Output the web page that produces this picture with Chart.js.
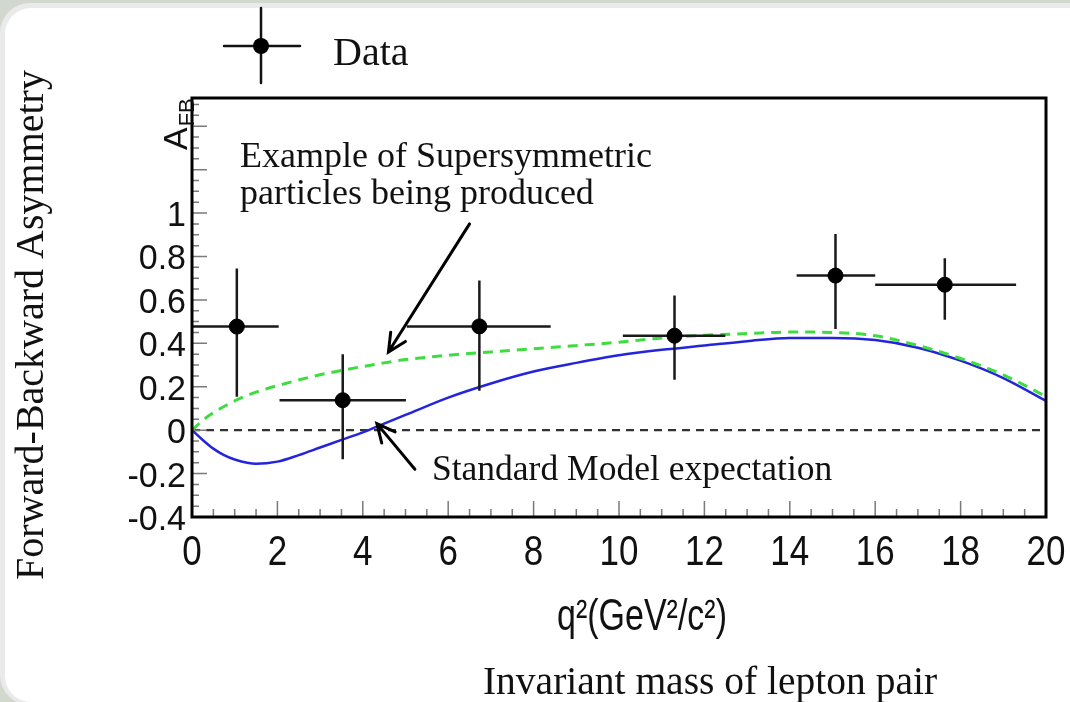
<!DOCTYPE html>
<html>
<head>
<meta charset="utf-8">
<script src="https://cdn.jsdelivr.net/npm/chart.js@4.4.1/dist/chart.umd.min.js"></script>
<style>
  html, body { margin: 0; padding: 0; background: #d6dad2; }
  #wrap { width: 1070px; height: 702px; }
</style>
</head>
<body>
<div id="wrap"><canvas id="afb-chart" width="1070" height="702"></canvas></div>
<script>
// measured points (q2 bin centre, A_FB) and their error bars
const xCenters = [1.05, 3.53, 6.73, 11.3, 15.07, 17.63];
const afb      = [0.477, 0.138, 0.478, 0.435, 0.712, 0.67];
const binLow   = [0, 2.05, 5.03, 10.09, 14.16, 16.0];
const binHigh  = [2.03, 5.01, 8.4, 12.49, 16.0, 19.3];
const errLow   = [0.154, -0.134, 0.181, 0.232, 0.466, 0.508];
const errHigh  = [0.745, 0.35, 0.689, 0.62, 0.904, 0.792];

// Standard Model expectation (blue)
const smQ2  = [0, 0.25, 0.5, 0.75, 1, 1.5, 2, 2.5, 3, 3.5, 4, 4.5, 5, 6, 7, 8, 9, 10, 11, 12, 13, 14, 15, 16, 17, 18, 19, 20];
const smAfb = [0, -0.045, -0.085, -0.115, -0.135, -0.155, -0.145, -0.115, -0.08, -0.045, -0.01, 0.03, 0.07, 0.15, 0.215, 0.27, 0.31, 0.345, 0.37, 0.39, 0.41, 0.425, 0.425, 0.415, 0.38, 0.32, 0.24, 0.135];

// supersymmetry example (green dashed)
const susyQ2  = [0, 0.25, 0.5, 1, 1.5, 2, 3, 3.5, 4.5, 5, 6, 7, 8, 9, 10, 11, 12, 13, 14, 15, 16, 17, 18, 19, 20];
const susyAfb = [0, 0.045, 0.08, 0.135, 0.175, 0.205, 0.255, 0.275, 0.31, 0.325, 0.345, 0.36, 0.375, 0.39, 0.405, 0.425, 0.437, 0.445, 0.452, 0.45, 0.435, 0.39, 0.33, 0.255, 0.155];

const xTickValues = [0, 2, 4, 6, 8, 10, 12, 14, 16, 18, 20];
const yTickValues = [-0.4, -0.2, 0, 0.2, 0.4, 0.6, 0.8, 1];

const toXY = (xs, ys) => xs.map((x, i) => ({ x: x, y: ys[i] }));

const SERIF = "'Liberation Serif', 'Times New Roman', serif";
const SANS = "'Liberation Sans', Arial, sans-serif";

function arrow(ctx, x1, y1, x2, y2) {
  const a = Math.atan2(y2 - y1, x2 - x1);
  const h = 20;
  ctx.beginPath();
  ctx.moveTo(x1, y1);
  ctx.lineTo(x2, y2);
  ctx.moveTo(x2 - h * Math.cos(a - 0.45), y2 - h * Math.sin(a - 0.45));
  ctx.lineTo(x2, y2);
  ctx.lineTo(x2 - h * Math.cos(a + 0.45), y2 - h * Math.sin(a + 0.45));
  ctx.stroke();
}

// text squeezed/stretched vertically, as in the (resized) ROOT plot
function tallText(ctx, txt, x, y, sy) {
  ctx.save();
  ctx.translate(x, y);
  ctx.scale(1, sy);
  ctx.fillText(txt, 0, 0);
  ctx.restore();
}

const fmt = v => String(Math.round(v * 10) / 10);

const decor = {
  id: 'decor',
  beforeDraw(chart) {
    const ctx = chart.ctx;
    ctx.save();
    ctx.fillStyle = '#d3d8cf';
    ctx.fillRect(0, 0, chart.width, chart.height);
    ctx.fillStyle = '#eaeaea';
    ctx.beginPath();
    ctx.roundRect(0, 3, 1120, 702, 30);
    ctx.fill();
    ctx.fillStyle = '#ffffff';
    ctx.beginPath();
    ctx.roundRect(5, 8, 1120, 694, 26);
    ctx.fill();
    ctx.restore();
  },
  beforeDatasetDraw(chart, args) {
    if (args.index !== 0) return;
    const ctx = chart.ctx, xs = chart.scales.x, ys = chart.scales.y;
    ctx.save();
    ctx.strokeStyle = '#1a1a1a';
    ctx.lineWidth = 2.5;
    xCenters.forEach((q, i) => {
      const px = xs.getPixelForValue(q), py = ys.getPixelForValue(afb[i]);
      ctx.beginPath();
      ctx.moveTo(xs.getPixelForValue(binLow[i]), py);
      ctx.lineTo(xs.getPixelForValue(binHigh[i]), py);
      ctx.moveTo(px, ys.getPixelForValue(errLow[i]));
      ctx.lineTo(px, ys.getPixelForValue(errHigh[i]));
      ctx.stroke();
    });
    ctx.restore();
  },
  afterDraw(chart) {
    const ctx = chart.ctx, xs = chart.scales.x, ys = chart.scales.y;
    const a = chart.chartArea;
    ctx.save();

    // ticks inside the frame
    ctx.strokeStyle = '#7a7a7a';
    ctx.lineWidth = 1.5;
    ctx.beginPath();
    for (let k = 0; k <= 40; k++) {
      const px = xs.getPixelForValue(k * 0.5);
      const len = k % 4 === 0 ? 16 : 8;
      ctx.moveTo(px, a.bottom);
      ctx.lineTo(px, a.bottom - len);
    }
    for (let k = -8; k <= 30; k++) {
      const py = ys.getPixelForValue(k * 0.05);
      const len = k % 4 === 0 ? 15 : 7;
      ctx.moveTo(a.left, py);
      ctx.lineTo(a.left + len, py);
    }
    ctx.stroke();

    // frame
    ctx.strokeStyle = '#000';
    ctx.lineWidth = 3;
    ctx.strokeRect(a.left, a.top, a.right - a.left, a.bottom - a.top);

    // tick labels, placed by the scales
    ctx.fillStyle = '#111';
    ctx.textBaseline = 'alphabetic';
    ctx.font = '35px ' + SANS;
    ctx.textAlign = 'center';
    xs.ticks.forEach(t => tallText(ctx, fmt(t.value), xs.getPixelForValue(t.value), a.bottom + 48, 1.2));
    ctx.font = '34px ' + SANS;
    ctx.textAlign = 'right';
    ys.ticks.forEach(t => tallText(ctx, fmt(t.value), a.left - 6, ys.getPixelForValue(t.value) + 13, 1.05));

    // arrows
    ctx.strokeStyle = '#000';
    ctx.lineWidth = 3;
    ctx.lineCap = 'round';
    arrow(ctx, xs.getPixelForValue(6.5), ys.getPixelForValue(0.95),
               xs.getPixelForValue(4.6), ys.getPixelForValue(0.36));
    arrow(ctx, xs.getPixelForValue(5.22), ys.getPixelForValue(-0.18),
               xs.getPixelForValue(4.33), ys.getPixelForValue(0.03));

    // annotations
    ctx.textAlign = 'left';
    ctx.font = '36px ' + SERIF;
    ctx.fillText('Example of Supersymmetric', 240, 167);
    ctx.fillText('particles being produced', 240, 204);
    ctx.font = '35.5px ' + SERIF;
    ctx.fillText('Standard Model expectation', 432, 480);

    ctx.font = '40px ' + SERIF;
    ctx.fillText('Data', 333, 65);

    ctx.textAlign = 'center';
    ctx.font = '39.5px ' + SERIF;
    ctx.fillText('Invariant mass of lepton pair', 710, 694);

    ctx.font = '34px ' + SANS;
    tallText(ctx, 'q\u00b2(GeV\u00b2/c\u00b2)', 642, 630, 1.3);

    // rotated titles
    ctx.save();
    ctx.translate(43, 325);
    ctx.rotate(-Math.PI / 2);
    ctx.font = '40px ' + SERIF;
    ctx.fillText('Forward-Backward Asymmetry', 0, 0);
    ctx.restore();

    ctx.save();
    ctx.translate(187, 150);
    ctx.rotate(-Math.PI / 2);
    ctx.textAlign = 'left';
    ctx.font = '34px ' + SANS;
    ctx.fillText('A', 0, 0);
    const w = ctx.measureText('A').width;
    ctx.font = '22px ' + SANS;
    ctx.fillText('FB', w + 1, 7);
    ctx.restore();

    // legend entry
    ctx.strokeStyle = '#111';
    ctx.lineWidth = 2.5;
    ctx.beginPath();
    ctx.moveTo(224, 46); ctx.lineTo(300, 46);
    ctx.moveTo(261, 8); ctx.lineTo(261, 83);
    ctx.stroke();
    ctx.fillStyle = '#000';
    ctx.beginPath();
    ctx.arc(261, 46, 8, 0, Math.PI * 2);
    ctx.fill();

    ctx.restore();
  }
};

new Chart(document.getElementById('afb-chart'), {
  type: 'scatter',
  data: {
    datasets: [
      {
        label: 'Data',
        data: toXY(xCenters, afb),
        pointRadius: 7.5,
        pointBackgroundColor: '#000',
        pointBorderColor: '#000',
        showLine: false
      },
      {
        label: 'Supersymmetry example',
        data: toXY(susyQ2, susyAfb),
        showLine: true,
        borderColor: '#3fdc3f',
        borderWidth: 3,
        borderDash: [10, 7],
        pointRadius: 0,
        cubicInterpolationMode: 'monotone'
      },
      {
        label: 'Standard Model',
        data: toXY(smQ2, smAfb),
        showLine: true,
        borderColor: '#2424dc',
        borderWidth: 2.5,
        pointRadius: 0,
        cubicInterpolationMode: 'monotone'
      },
      {
        label: 'zero',
        data: toXY([0, 20], [0, 0]),
        showLine: true,
        borderColor: '#333',
        borderWidth: 2.2,
        borderDash: [8, 6],
        pointRadius: 0
      }
    ]
  },
  options: {
    responsive: false,
    animation: false,
    layout: { padding: { top: 98, right: 24, left: 0, bottom: 0 } },
    plugins: {
      legend: { display: false },
      tooltip: { enabled: false }
    },
    scales: {
      x: {
        type: 'linear',
        min: 0,
        max: 20,
        grid: { display: false, drawTicks: false },
        border: { display: false },
        afterBuildTicks: s => { s.ticks = xTickValues.map(v => ({ value: v })); },
        afterFit: s => { s.height = 185; },
        ticks: { display: false }
      },
      y: {
        type: 'linear',
        min: -0.4,
        max: 1.53,
        grid: { display: false, drawTicks: false },
        border: { display: false },
        afterBuildTicks: s => { s.ticks = yTickValues.map(v => ({ value: v })); },
        afterFit: s => { s.width = 192; },
        ticks: { display: false }
      }
    }
  },
  plugins: [decor]
});
</script>
</body>
</html>
